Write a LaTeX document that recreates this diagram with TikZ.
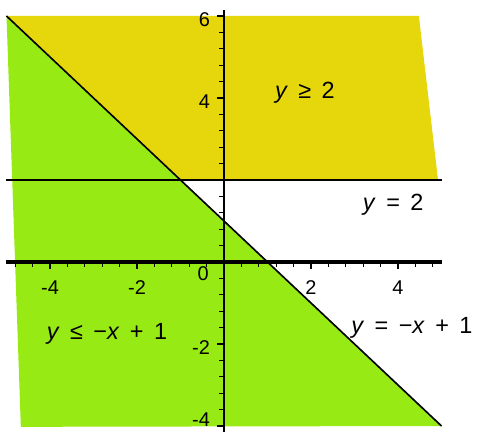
\documentclass[tikz,border=0pt]{standalone}
\usepackage{fontspec}
\setmainfont{Liberation Sans}[WordSpace=1.6]
\definecolor{regionyellow}{RGB}{230,214,12}
\definecolor{regiongreen}{RGB}{152,234,20}

\begin{document}
\begin{tikzpicture}[
        x=1.305cm, y=1.23cm,
        axis/.style={draw=black, line width=2.6pt},
        yaxis/.style={draw=black, line width=1.7pt},
        bound/.style={draw=black, line width=1.4pt},
        tick/.style={draw=black, line width=1.1pt},
        num/.style={font=\fontsize{17}{20}\selectfont, inner sep=0pt},
        lab/.style={font=\fontsize{20}{23}\selectfont, inner sep=0pt},
        ]
        \useasboundingbox (-5.149,-4.146) rectangle (5.816,6.390);

        \coordinate (dtop) at (-5,6);
        \coordinate (dbot) at (5,-4);
        \coordinate (hl) at (-5,2);
        \coordinate (hr) at (5,2);
        \coordinate (xl) at (-5,0);
        \coordinate (xr) at (5,0);
        \coordinate (yb) at (0,-4.15);
        \coordinate (yt) at (0,6.15);

        \fill[regionyellow] (dtop) -- (4.48,6) -- (4.92,2) -- (-1,2) -- cycle;
        \fill[regiongreen] (dtop) -- (dbot) -- (-4.67,-4.02) -- cycle;

        \draw[bound] (hl) -- (hr);
        \draw[bound] (dtop) -- (dbot);
        \draw[axis] (xl) -- (xr);
        \draw[yaxis] (yb) -- (yt);

        \foreach \i in {-12,...,12}
            \draw[tick] (0.4*\i,0) -- ++(0,-0.11);
        \foreach \v in {-4,-2,2,4}
            \draw[tick] (\v,0) -- ++(0,-0.16);
        \foreach \i in {-10,...,15}
            \draw[tick] (0,0.4*\i) -- ++(-0.11,0);
        \foreach \v in {-4,-2,4,6}
            \draw[tick] (0,\v) -- ++(-0.16,0);

        \node (ysix) [num, anchor=east] at (-0.32,5.92) {6};
        \node (yfour) [num, anchor=east] at (-0.32,3.92) {4};
        \node (ymtwo) [num, anchor=east] at (-0.32,-2.08) {-2};
        \node (ymfour) [num, anchor=east] at (-0.32,-3.84) {-4};
        \node (origin) [num] at (-0.48,-0.29) {0};
        \node (xmfour) [num] at (-4,-0.63) {-4};
        \node (xmtwo) [num] at (-2,-0.63) {-2};
        \node (xtwo) [num] at (2,-0.63) {2};
        \node (xfour) [num] at (4,-0.63) {4};

        \node (above) [lab] at (1.86,4.12) {\textit{y} ≥ 2};
        \node (hline) [lab] at (3.89,1.39) {\textit{y} = 2};
        \node (below) [lab] at (-2.69,-1.76) {\textit{y} ≤ −\textit{x} + 1};
        \node (dline) [lab] at (4.32,-1.61) {\textit{y} = −\textit{x} + 1};
    \end{tikzpicture}
\end{document}
